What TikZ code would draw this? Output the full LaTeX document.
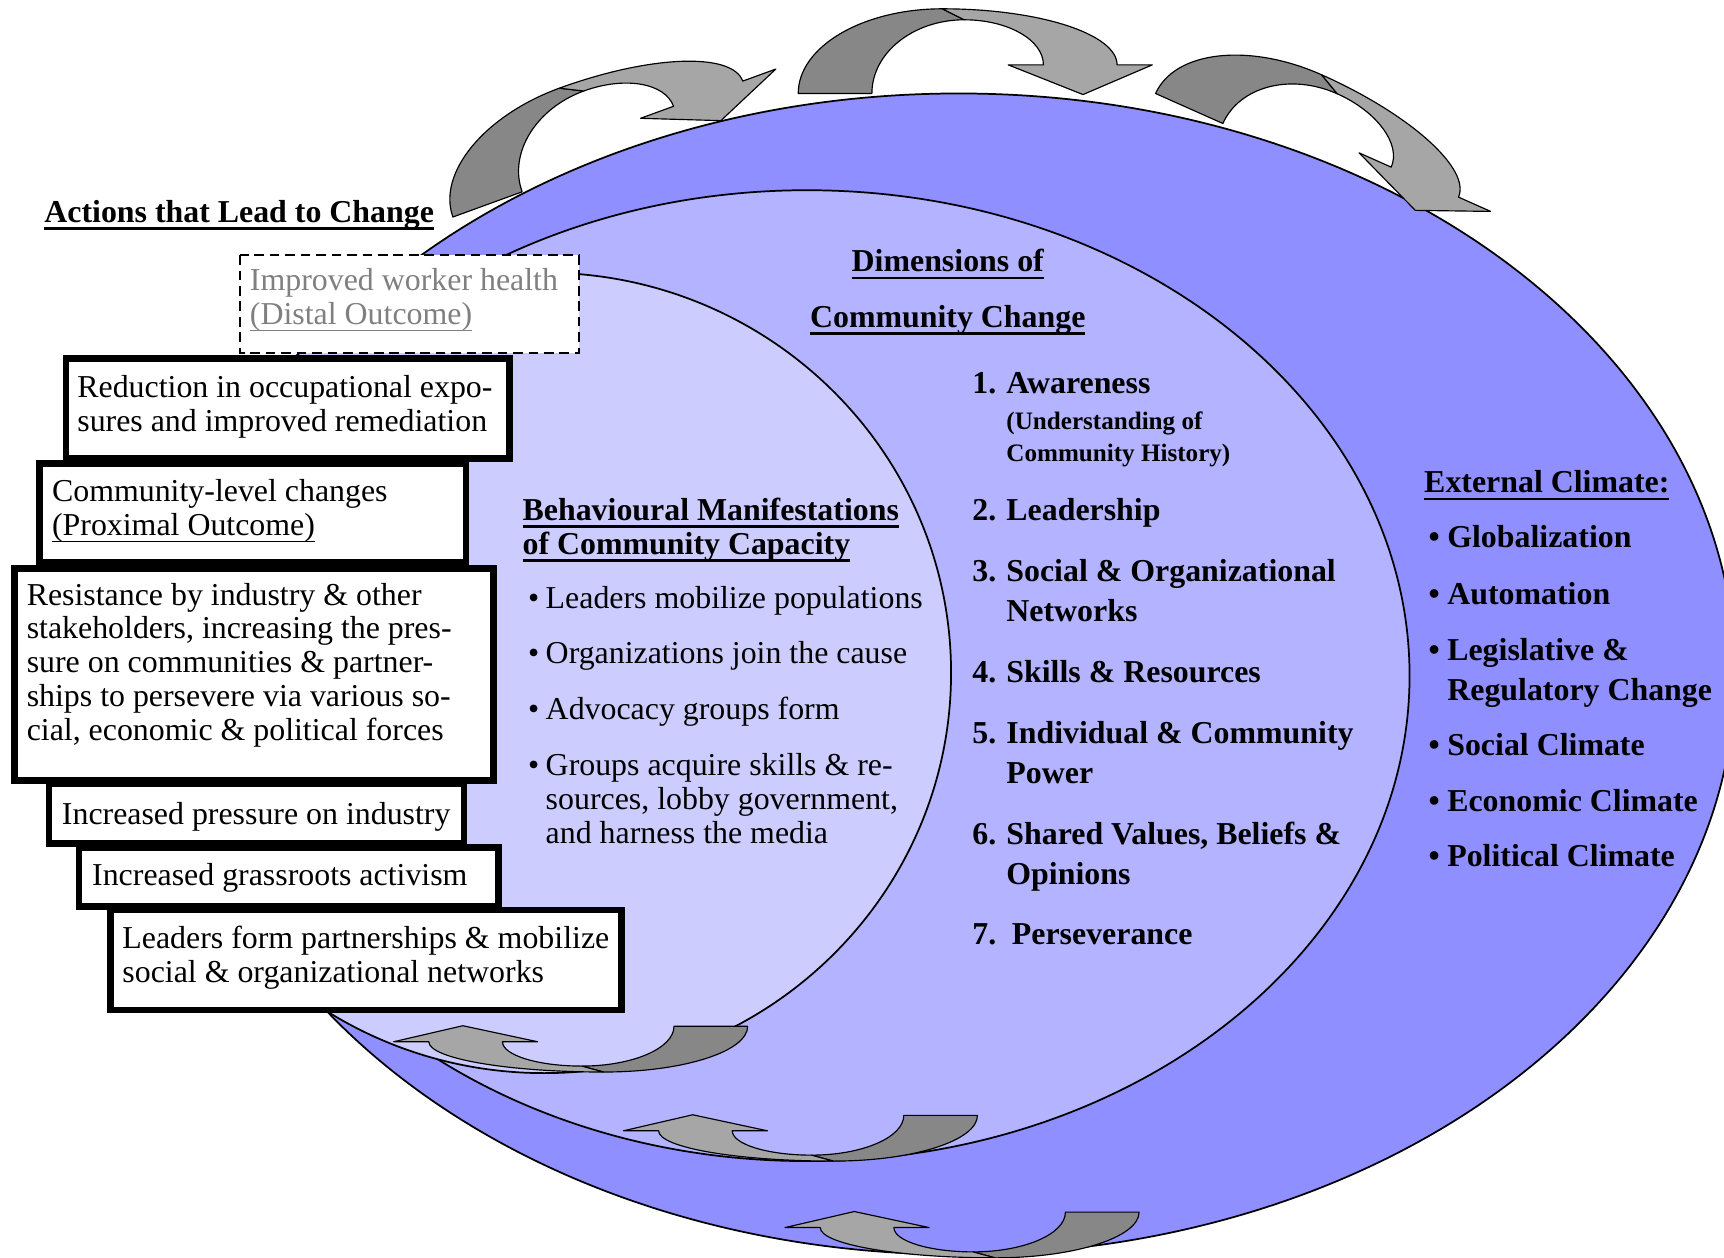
\documentclass[tikz,border=0pt]{standalone}
\usepackage{fontspec}
\setmainfont{Liberation Serif}
\usepackage{tikz}

\definecolor{outerblue}{RGB}{143,143,255}
\definecolor{midblue}{RGB}{179,179,255}
\definecolor{innerblue}{RGB}{204,204,255}
\definecolor{arrowdark}{RGB}{135,135,135}
\definecolor{arrowlight}{RGB}{166,166,166}
\definecolor{outcomegray}{RGB}{128,128,128}

\newcommand\bodysize{\fontsize{16.5}{17.57}\selectfont}
\newcommand\listsize{\fontsize{16.5}{20.7}\selectfont}
\newcommand\notesize{\fontsize{13}{17}\selectfont}
% underline: #1 thickness, #2 text
\newcommand\ulrule[2]{\leavevmode\setbox0=\hbox{#2}%
  \rlap{\vrule width\wd0 height -2.6pt depth \dimexpr 2.6pt+#1\relax}\box0}
\newcommand\bul[1]{\ulrule{1.3pt}{#1}}
\newcommand\thinul[1]{\ulrule{0.6pt}{#1}}

\tikzset{
  ring/.style={draw, line width=0.9pt},
  actbox/.style={draw, line width=3.4pt, fill=white},
  outcomebox/.style={draw, line width=1.1pt, dash pattern=on 5pt off 3pt, fill=white},
  txt/.style={inner sep=0pt, anchor=north west, align=left, font=\bodysize},
  oneline/.style={inner sep=0pt, anchor=base west, font=\bodysize},
  boldline/.style={oneline, font=\bodysize\bfseries},
  dot/.style={inner sep=0pt, anchor=base west, font=\bodysize},
  arrowpart/.style={draw, line width=0.6pt, line join=round},
  bentarrow/.pic={
    \draw[arrowpart, fill=arrowdark] (-131,77)
      arc[start angle=180, end angle=270, x radius=131, y radius=77]
      -- (20,10) arc[start angle=270, end angle=180, x radius=84, y radius=67] -- cycle;
    \draw[arrowpart, fill=arrowlight] (0,0)
      arc[start angle=270, end angle=360, x radius=159, y radius=51]
      -- (191,51) -- (128,78) -- (60,51) -- (92,51)
      arc[start angle=360, end angle=270, x radius=72, y radius=41] -- cycle;
  }
}

\begin{document}
\begin{tikzpicture}[x=0.02cm, y=-0.02cm]
  \fill[white] (0,0) rectangle (1568,1144);
  \useasboundingbox (0,0) rectangle (1568,1144);

  % the three rings
  \draw[ring, fill=outerblue] (872,613) ellipse [x radius=706, y radius=528];
  \draw[ring, fill=midblue] (734,614.5) ellipse [x radius=548, y radius=441.5];
  \draw[ring, fill=innerblue] (495,612) ellipse [x radius=370, y radius=364];

  % turning arrows
  \pic[rotate=20] (arrowA) at (508.7,80.2) {bentarrow};
  \pic (arrowB) at (857,8) {bentarrow};
  \pic[rotate=-24] (arrowC) at (1202,68) {bentarrow};
  \pic[rotate=180, yscale=0.54] (arrowD) at (549,975) {bentarrow};
  \pic[rotate=180, yscale=0.54] (arrowE) at (758,1056) {bentarrow};
  \pic[rotate=180, yscale=0.54] (arrowF) at (905,1144) {bentarrow};

  % actions that lead to change
  \node[boldline] (actions) at (40,202) {\bul{Actions that Lead to Change}};

  \draw[outcomebox] (218.6,232) rectangle (526.6,321.3);
  \draw[actbox] (60,326) rectangle (463.6,417);
  \draw[actbox] (36,421.6) rectangle (424,511);
  \draw[actbox] (13.4,517) rectangle (449,710);
  \draw[actbox] (44.6,713) rectangle (422,767);
  \draw[actbox] (71.7,771) rectangle (453.6,824.7);
  \draw[actbox] (100.3,827.6) rectangle (565,918.6);

  \node[txt, text=outcomegray] (distal) at (227,242.3)
    {\strut Improved worker health\\\thinul{(Distal Outcome)}};
  \node[txt] (reduce) at (70,339.3)
    {\strut Reduction in occupational expo-\\sures and improved remediation};
  \node[txt] (proximal) at (47,434.3)
    {\strut Community-level changes\\\thinul{(Proximal Outcome)}};
  \node[txt] (resist) at (24,528.3)
    {\strut Resistance by industry \& other\\stakeholders, increasing the pres-\\sure on communities \& partner-\\ships to persevere via various so-\\cial, economic \& political forces};
  \node[oneline] (pressure) at (56,750) {Increased pressure on industry};
  \node[oneline] (grassroots) at (83.5,805) {Increased grassroots activism};
  \node[txt] (partners) at (111,840.3)
    {\strut Leaders form partnerships \& mobilize\\social \& organizational networks};

  % community capacity
  \node[txt, font=\bodysize\bfseries] (capacity) at (475,451.3)
    {\strut\bul{Behavioural Manifestations}\\\bul{of Community Capacity}};
  \foreach \yy [count=\i] in {553,603.5,654,705}
    \node[dot] (capdot\i) at (480,\yy) {\textbullet};
  \node[oneline] (mobilize) at (496,553) {Leaders mobilize populations};
  \node[oneline] (join) at (496,603.5) {Organizations join the cause};
  \node[oneline] (advocacy) at (496,654) {Advocacy groups form};
  \node[txt] (acquire) at (496,683.3)
    {\strut Groups acquire skills \& re-\\sources, lobby government,\\and harness the media};

  % dimensions of community change
  \node[boldline, anchor=base] (dimtitle) at (862,247) {\bul{Dimensions of}};
  \node[boldline, anchor=base] (dimtitle2) at (862,297.5) {\bul{Community Change}};
  \foreach \n/\yy in {1/358,2/473,3/529,4/621,5/676,6/768,7/859}
    \node[boldline] (num\n) at (884,\yy) {\n.};
  \node[boldline] (aware) at (915,358) {Awareness};
  \node[txt, font=\notesize\bfseries] (history) at (915,369)
    {\strut(Understanding of\\Community History)};
  \node[boldline] (lead) at (915,473) {Leadership};
  \node[txt, font=\listsize\bfseries] (networks) at (915,503.4)
    {\strut Social \& Organizational\\Networks};
  \node[boldline] (skills) at (915,621) {Skills \& Resources};
  \node[txt, font=\listsize\bfseries] (power) at (915,650.4)
    {\strut Individual \& Community\\Power};
  \node[txt, font=\listsize\bfseries] (values) at (915,742.4)
    {\strut Shared Values, Beliefs \&\\Opinions};
  \node[boldline] (persevere) at (920,859) {Perseverance};

  % external climate
  \node[boldline] (exttitle) at (1295,448) {\bul{External Climate:}};
  \foreach \yy [count=\i] in {498,549.5,600.5,687,738,788.5}
    \node[dot, font=\bodysize\bfseries] (extdot\i) at (1299,\yy) {\textbullet};
  \node[boldline] (global) at (1316,498) {Globalization};
  \node[boldline] (automation) at (1316,549.5) {Automation};
  \node[txt, font=\listsize\bfseries] (legis) at (1316,574.9)
    {\strut Legislative \&\\Regulatory Change};
  \node[boldline] (social) at (1316,687) {Social Climate};
  \node[boldline] (economic) at (1316,738) {Economic Climate};
  \node[boldline] (political) at (1316,788.5) {Political Climate};
\end{tikzpicture}
\end{document}
